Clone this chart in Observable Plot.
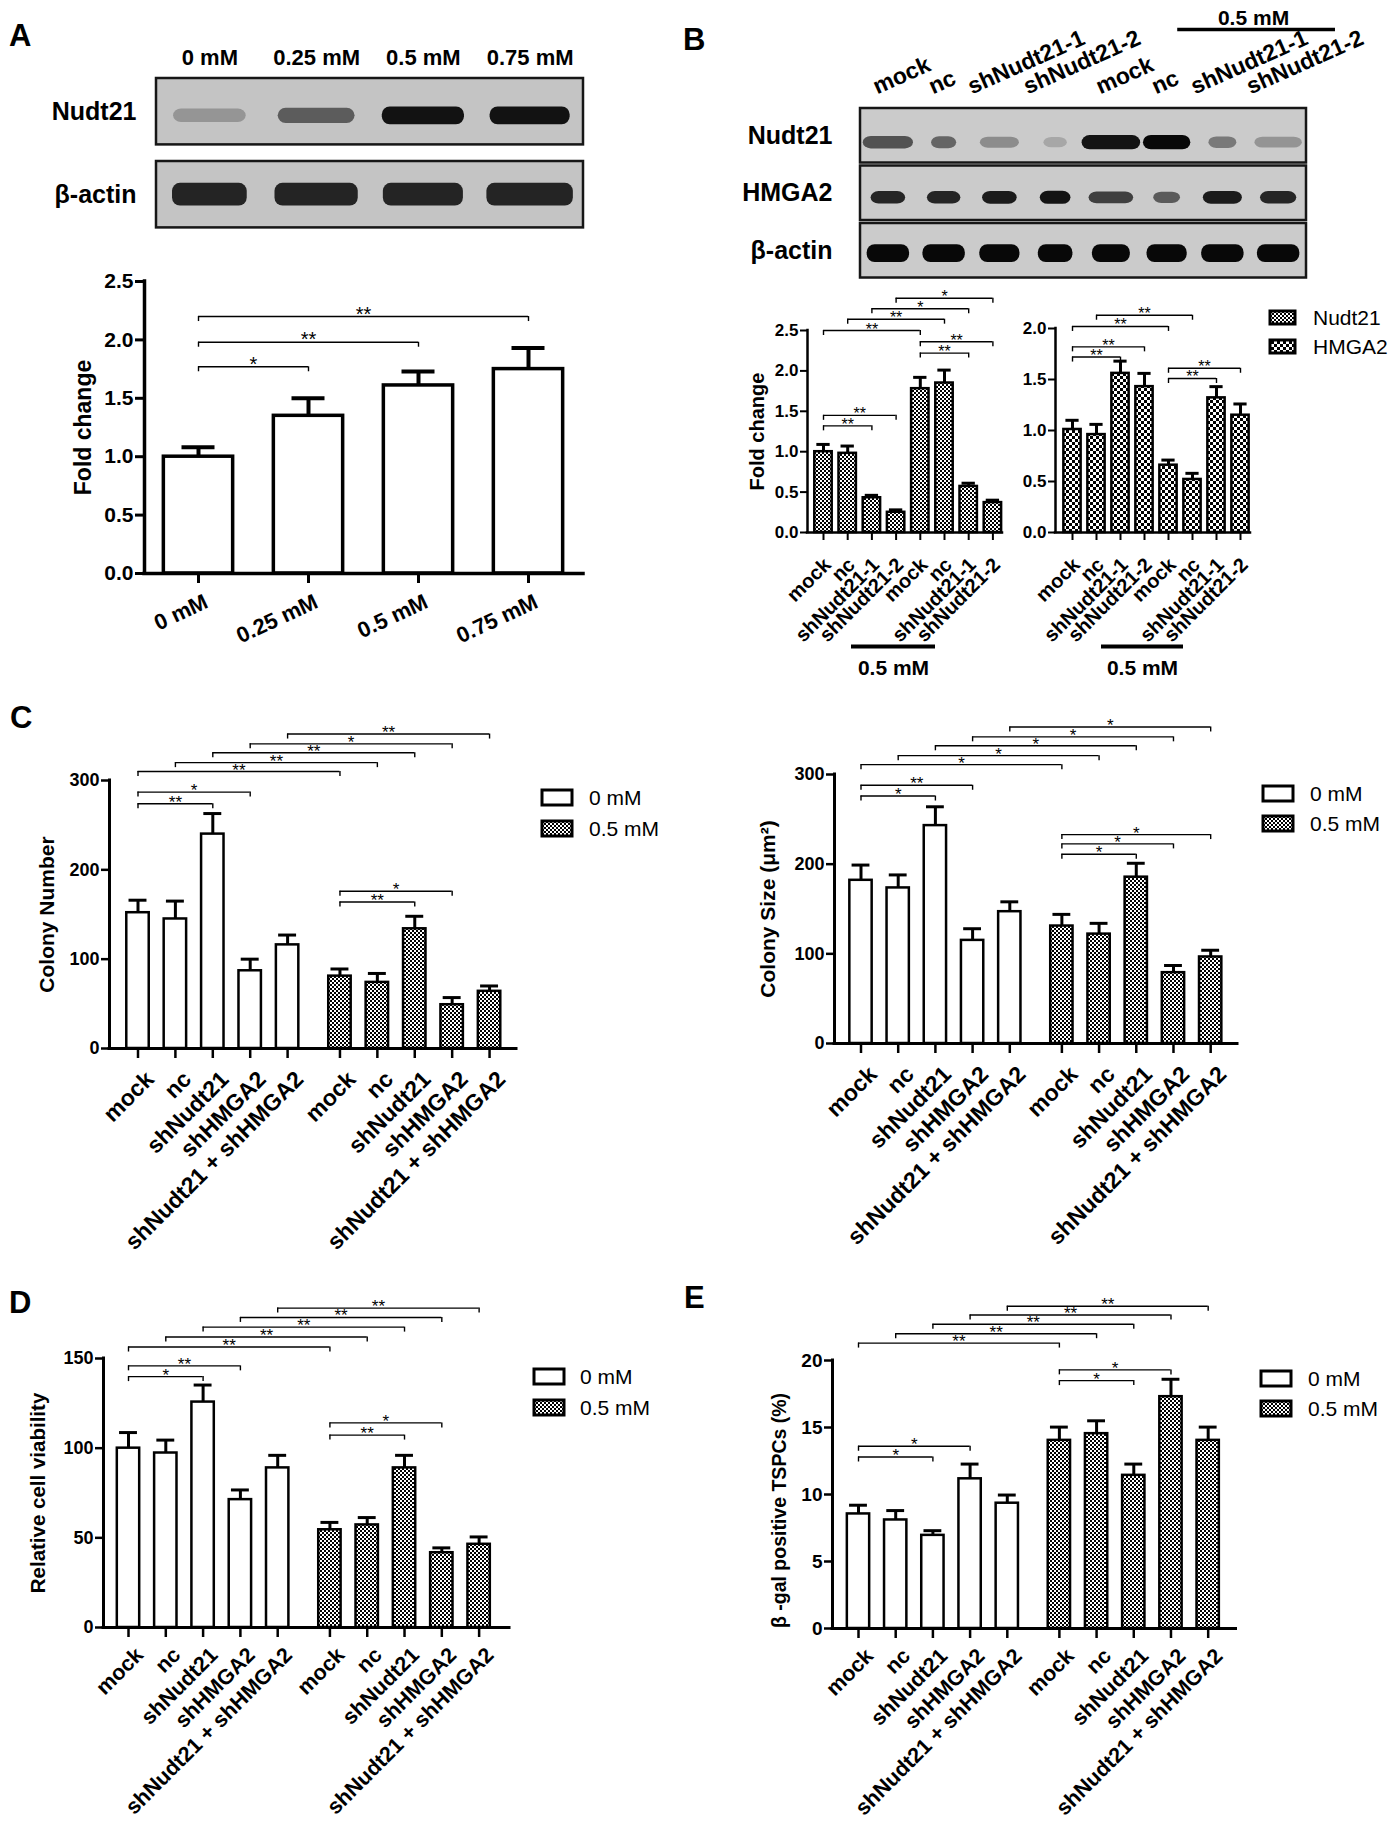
<!DOCTYPE html>
<html><head><meta charset="utf-8">
<script src="https://cdn.jsdelivr.net/npm/d3@7"></script>
<script src="https://cdn.jsdelivr.net/npm/@observablehq/plot@0.6"></script>
<style>
html,body{margin:0;padding:0;background:#fff;}
#fig{position:relative;width:1392px;height:1830px;overflow:hidden;font-family:"Liberation Sans",Arial,Helvetica,sans-serif;color:#000;background:#fff}
.abs{position:absolute}
.letter{position:absolute;font-weight:bold;font-size:31px;line-height:1}
.leg{position:absolute;font-size:21px;line-height:1;white-space:nowrap}
g[aria-label="bands"]{filter:blur(3.2px)}
</style></head><body>
<svg width="0" height="0" style="position:absolute"><defs>
  <pattern id="fine" width="4" height="4" patternUnits="userSpaceOnUse">
    <rect width="4" height="4" fill="#fff"/>
    <rect width="2" height="2" fill="#000"/>
    <rect x="2" y="2" width="2" height="2" fill="#000"/>
  </pattern>
  <pattern id="coarse" width="6" height="6" patternUnits="userSpaceOnUse">
    <rect width="6" height="6" fill="#fff"/>
    <rect width="3" height="3" fill="#000"/>
    <rect x="3" y="3" width="3" height="3" fill="#000"/>
  </pattern>
</defs></svg>
<div id="fig"></div>
<script>
// ================= DATA =================
// Panel A
const doseLabels = ["0 mM", "0.25 mM", "0.5 mM", "0.75 mM"];
const foldA = [1.00, 1.35, 1.61, 1.75];
const foldAErr = [1.08, 1.50, 1.73, 1.93];           // top of error bar
const sigA = [[0, 1, 1.77, "*"], [0, 2, 1.98, "**"], [0, 3, 2.20, "**"]];
const blotARows = ["Nudt21", "β-actin"];
const blotANudt21 = [0.25, 0.55, 0.95, 0.95];          // band darkness
const blotANudt21W = [0.68, 0.72, 0.77, 0.75];         // band spread (lane fraction)
const blotAActin = [0.85, 0.85, 0.85, 0.85];
const blotAActinW = [0.70, 0.78, 0.75, 0.81];

// Panel B
const laneB = ["mock", "nc", "shNudt21-1", "shNudt21-2", "mock", "nc", "shNudt21-1", "shNudt21-2"];
const blotBRows = ["Nudt21", "HMGA2", "β-actin"];
const blotBNudt21 = [0.62, 0.52, 0.32, 0.18, 0.95, 1.0, 0.42, 0.28];
const blotBNudt21W = [0.9, 0.45, 0.7, 0.42, 1.05, 0.85, 0.5, 0.85];
const blotBHMGA2 = [0.85, 0.85, 0.9, 0.95, 0.72, 0.58, 0.9, 0.85];
const blotBHMGA2W = [0.62, 0.6, 0.62, 0.55, 0.8, 0.48, 0.7, 0.65];
const blotBActin = [1, 1, 1, 1, 1, 1, 1, 1];
const blotBActinW = [0.76, 0.76, 0.72, 0.62, 0.68, 0.72, 0.76, 0.76];
const foldNudt21 = [1.00, 0.98, 0.43, 0.25, 1.78, 1.85, 0.57, 0.37];
const foldNudt21Err = [1.09, 1.07, 0.46, 0.28, 1.92, 2.01, 0.61, 0.40];
const sigNudt21 = [[0, 2, 1.32, "**"], [0, 3, 1.45, "**"], [4, 6, 2.22, "**"], [4, 7, 2.36, "**"],
                   [0, 4, 2.50, "**"], [1, 5, 2.64, "**"], [2, 6, 2.77, "*"], [3, 7, 2.90, "*"]];
const foldHMGA2 = [1.01, 0.96, 1.56, 1.43, 0.66, 0.52, 1.32, 1.15];
const foldHMGA2Err = [1.10, 1.06, 1.68, 1.56, 0.71, 0.58, 1.43, 1.26];
const sigHMGA2 = [[0, 2, 1.72, "**"], [0, 3, 1.82, "**"], [0, 4, 2.02, "**"], [1, 5, 2.13, "**"],
                  [4, 6, 1.51, "**"], [4, 7, 1.61, "**"]];
const legendB = ["Nudt21", "HMGA2"];

// Panels C–E
const groups = ["mock", "nc", "shNudt21", "shHMGA2", "shNudt21 + shHMGA2"];
const doses = ["0 mM", "0.5 mM"];
const colonyNum0 = [152, 145, 240, 87, 116];
const colonyNum0Err = [166, 165, 263, 100, 127];
const colonyNum05 = [81, 74, 134, 49, 64];
const colonyNum05Err = [89, 84, 148, 57, 70];
const sigColonyNum = [[0, 2, 274, "**"], [0, 3, 287, "*"], [0, 5, 310, "**"], [1, 6, 320, "**"], [2, 7, 331, "**"],
                      [3, 8, 341, "*"], [4, 9, 352, "**"], [5, 7, 164, "**"], [5, 8, 176, "*"]];
const colonySize0 = [182, 173.5, 243, 115, 147];
const colonySize0Err = [199, 188, 264, 128, 158];
const colonySize05 = [131, 122, 185.5, 79, 96.5];
const colonySize05Err = [144, 134, 201, 87, 104];
const sigColonySize = [[0, 2, 276, "*"], [0, 3, 288, "**"], [0, 5, 311, "*"], [1, 6, 321, "*"], [2, 7, 332, "*"],
                       [3, 8, 342, "*"], [4, 9, 353, "*"], [5, 7, 211, "*"], [5, 8, 222.6, "*"], [5, 9, 233, "*"]];
const viability0 = [100, 97.3, 125.7, 71.3, 89];
const viability0Err = [108.7, 104.5, 135.2, 76.7, 96];
const viability05 = [54.5, 57.2, 89, 41.7, 46.4];
const viability05Err = [58.6, 61.3, 96, 44.4, 50.5];
const sigViability = [[0, 2, 139.9, "*"], [0, 3, 145.9, "**"], [0, 5, 156.4, "**"], [1, 6, 162, "**"], [2, 7, 167.5, "**"],
                      [3, 8, 172.9, "**"], [4, 9, 178.1, "**"], [5, 7, 107.3, "**"], [5, 8, 114.1, "*"]];
const betaGal0 = [8.55, 8.1, 6.95, 11.17, 9.35];
const betaGal0Err = [9.2, 8.8, 7.3, 12.27, 9.96];
const betaGal05 = [14.04, 14.54, 11.43, 17.3, 14.04];
const betaGal05Err = [15.03, 15.5, 12.27, 18.6, 15.03];
const sigBetaGal = [[0, 2, 12.8, "*"], [0, 3, 13.6, "*"], [0, 5, 21.3, "**"], [1, 6, 22.0, "**"], [2, 7, 22.7, "**"],
                    [3, 8, 23.4, "**"], [4, 9, 24.05, "**"], [5, 7, 18.5, "*"], [5, 8, 19.3, "*"]];

// ================= HELPERS =================
const FONT = '"Liberation Sans", Arial, Helvetica, sans-serif';
const fig = document.getElementById("fig");
const baseStyle = {fontFamily: FONT, fontWeight: "bold", fontSize: "16px", overflow: "visible",
                   background: "none", color: "#000", maxWidth: "none"};
function place(node, left, top, width, height) {
  const d = document.createElement("div");
  d.className = "abs";
  Object.assign(d.style, {left: left + "px", top: top + "px", width: width + "px", height: height + "px"});
  d.appendChild(node);
  fig.appendChild(d);
}
function letter(t, left, top) {
  const d = document.createElement("div");
  d.className = "letter"; d.textContent = t;
  d.style.left = left + "px"; d.style.top = top + "px";
  fig.appendChild(d);
}
function legend(items, fills, {sx, cy, w, h, tx, fs}) {
  items.forEach((label, k) => {
    const c = cy[k];
    const s = document.createElement("div");
    s.className = "abs";
    s.style.left = (sx - 2) + "px"; s.style.top = (c - h / 2 - 2) + "px";
    s.innerHTML = `<svg width="${w + 4}" height="${h + 4}" style="display:block;overflow:visible"><rect x="2" y="2" width="${w}" height="${h}" fill="${fills[k]}" stroke="#000" stroke-width="3"/></svg>`;
    fig.appendChild(s);
    const t = document.createElement("div");
    t.className = "leg"; t.textContent = label;
    t.style.left = tx + "px"; t.style.top = (c - fs * 0.5) + "px"; t.style.fontSize = fs + "px";
    fig.appendChild(t);
  });
}

function barChart(c) {
  const ppu = (c.y0 - c.yTop) / c.yMax;
  const xd = [(c.axisX - c.first) / c.pitch, (c.endX - c.first) / c.pitch];
  const data = c.values.map((v, i) => ({x: c.pos[i], v, e: c.errs[i], fill: c.fills[i], label: c.labels[i]}));
  const br = c.sig.map(([a, b, y, s]) => ({x1: c.pos[a], x2: c.pos[b], y, s}));
  const ends = br.flatMap(d => [{x: d.x1, y: d.y}, {x: d.x2, y: d.y}]);
  const fillKinds = [...new Set(c.fills)];
  const bw = c.barW, cw = c.capW;
  const marks = [
    ...fillKinds.map(f => Plot.rect(data.filter(d => d.fill === f), {
      x1: d => d.x - bw / 2, x2: d => d.x + bw / 2, y1: 0, y2: "v",
      fill: f, stroke: "#000", strokeWidth: c.sw})),
    Plot.ruleX(data, {x: "x", y1: "v", y2: "e", strokeWidth: c.ew}),
    Plot.ruleY(data, {y: "e", x1: d => d.x - cw / 2, x2: d => d.x + cw / 2, strokeWidth: c.ew}),
    Plot.ruleX(data, {x: "x", y1: 0, y2: -c.xTick / ppu, strokeWidth: c.aw - 0.5}),
    Plot.ruleX([xd[0]], {strokeWidth: c.aw, strokeLinecap: "square"}),
    Plot.ruleY([0], {strokeWidth: c.aw, strokeLinecap: "square"}),
    Plot.axisY({ticks: c.yTicks, tickFormat: c.fmt, tickSize: c.yTick, tickPadding: 2,
                strokeWidth: c.aw - 0.5, fontSize: c.tickFont, fontWeight: "bold", label: null}),
    Plot.text(data, {x: "x", y: 0, text: "label", rotate: c.xRot, textAnchor: "end", lineAnchor: "middle",
                     dx: c.xdx, dy: c.xdy, fontSize: c.xFont, fontWeight: "bold"}),
    Plot.ruleY(br, {y: "y", x1: "x1", x2: "x2", strokeWidth: 1.4}),
    Plot.ruleX(ends, {x: "x", y1: "y", y2: d => d.y - 5 / ppu, strokeWidth: 1.4}),
    Plot.text(br, {x: d => (d.x1 + d.x2) / 2, y: "y", text: "s", lineAnchor: "bottom", dy: 4,
                   fontSize: c.starFont, fontWeight: "normal"})
  ];
  if (c.ylabel) marks.push(Plot.text([c.ylabel], {text: d => d, frameAnchor: "left", textAnchor: "middle",
      lineAnchor: "middle", dx: c.ylabelX - c.axisX, dy: c.ylabelDy || 0, rotate: -90,
      fontSize: c.ylabelFont, fontWeight: "bold"}));
  if (c.under) {
    const u = c.under, ux1 = (u.x1 - c.first) / c.pitch, ux2 = (u.x2 - c.first) / c.pitch;
    marks.push(Plot.ruleY([0], {x1: ux1, x2: ux2, dy: u.lineDy, strokeWidth: 4}));
    marks.push(Plot.text([u.label], {x: (ux1 + ux2) / 2, y: 0, text: d => d, dy: u.textDy, fontSize: u.font, fontWeight: "bold"}));
  }
  const svg = Plot.plot({
    width: c.width, height: c.height,
    marginLeft: c.axisX - c.left, marginRight: c.left + c.width - c.endX,
    marginTop: c.yTop - c.top, marginBottom: c.top + c.height - c.y0,
    x: {type: "linear", domain: xd, axis: null},
    y: {type: "linear", domain: [0, c.yMax], axis: null},
    style: baseStyle,
    marks
  });
  place(svg, c.left, c.top, c.width, c.height);
}

function makeBands(row, dark, widths, h, yo) {
  return dark.map((d, i) => ({lane: i, row, dark: d, w: widths[i], h: h * (0.65 + 0.35 * d), yo}));
}

function blot(c) {
  const nR = c.rows.length;
  const y0px = c.boxTop - c.pad * c.pitch;
  const rowsData = c.rows.map((name, i) => ({name, i}));
  const svg = Plot.plot({
    width: c.width, height: c.height,
    marginLeft: c.boxL - c.left, marginRight: c.left + c.width - c.boxR,
    marginTop: y0px - c.top, marginBottom: c.top + c.height - (y0px + nR * c.pitch),
    x: {type: "linear", domain: [0, c.nLanes], axis: null},
    y: {type: "linear", domain: [0, nR], reverse: true, axis: null},
    style: baseStyle,
    marks: [
      Plot.rect(rowsData, {x1: 0, x2: c.nLanes, y1: d => d.i + c.pad, y2: d => d.i + 1 - c.pad, fill: c.bg}),
      Plot.rect(c.bands, {
        x1: b => b.lane + 0.5 - b.w / 2, x2: b => b.lane + 0.5 + b.w / 2,
        y1: b => b.row + 0.5 + b.yo - b.h / 2, y2: b => b.row + 0.5 + b.yo + b.h / 2,
        fill: "#080808", fillOpacity: "dark", rx: 8, ariaLabel: "bands"}),
      Plot.rect(rowsData, {x1: 0, x2: c.nLanes, y1: d => d.i + c.pad, y2: d => d.i + 1 - c.pad,
                           fill: "none", stroke: "#161616", strokeWidth: 2.5}),
      Plot.text(rowsData, {x: 0, y: d => d.i + 0.5, text: "name", textAnchor: "end", dx: c.rowDx,
                           fontSize: c.rowFont, fontWeight: "bold"}),
      ...c.extra
    ]
  });
  place(svg, c.left, c.top, c.width, c.height);
}

// ================= PANEL A =================
blot({
  left: 0, top: 0, width: 600, height: 240, boxL: 156, boxR: 583, boxTop: 78, pitch: 83, pad: 0.1, nLanes: 4,
  rows: blotARows, bg: "#c4c4c4", rowDx: -20, rowFont: 25,
  bands: [...makeBands(0, blotANudt21, blotANudt21W, 0.22, 0.05), ...makeBands(1, blotAActin, blotAActinW, 0.29, 0)],
  extra: [Plot.text(doseLabels, {x: (d, i) => i + 0.5, y: 0.1, dy: -21, text: d => d, fontSize: 22, fontWeight: "bold"})]
});
barChart({
  left: 0, top: 240, width: 600, height: 400,
  axisX: 144, endX: 583, y0: 573, yTop: 281, yMax: 2.5,
  yTicks: [0, 0.5, 1, 1.5, 2, 2.5], fmt: d3.format(".1f"),
  first: 198, pitch: 110, pos: [0, 1, 2, 3],
  values: foldA, errs: foldAErr, fills: doseLabels.map(() => "#fff"), labels: doseLabels,
  sig: sigA, barW: 0.63, capW: 0.3, sw: 3.5, ew: 4, aw: 3.5, xTick: 10, yTick: 9,
  tickFont: 21, xFont: 22, xRot: -25, xdx: 8, xdy: 27, starFont: 20,
  ylabel: "Fold change", ylabelX: 83, ylabelFont: 23
});

// ================= PANEL B =================
blot({
  left: 690, top: 0, width: 702, height: 290, boxL: 860, boxR: 1306, boxTop: 108, pitch: 57.5, pad: 0.026, nLanes: 8,
  rows: blotBRows, bg: "#cbcbcb", rowDx: -28, rowFont: 25,
  bands: [...makeBands(0, blotBNudt21, blotBNudt21W, 0.25, 0.12),
          ...makeBands(1, blotBHMGA2, blotBHMGA2W, 0.23, 0.08),
          ...makeBands(2, blotBActin, blotBActinW, 0.31, 0.05)],
  extra: [
    Plot.text(laneB, {x: (d, i) => i + 0.5 - (d.length > 5 ? 0.5 : 0.2), y: 0.026, dy: -14, text: d => d,
                      rotate: -24, textAnchor: "start", lineAnchor: "bottom", fontSize: 23, fontWeight: "bold"}),
    Plot.ruleY([0.026], {x1: 5.69, x2: 8.52, dy: -79, strokeWidth: 3.5}),
    Plot.text(["0.5 mM"], {x: 7.05, y: 0.026, dy: -90, text: d => d, fontSize: 21, fontWeight: "bold"})
  ]
});
barChart({
  left: 690, top: 280, width: 330, height: 420,
  axisX: 807, endX: 1002, y0: 532, yTop: 330, yMax: 2.5,
  yTicks: [0, 0.5, 1, 1.5, 2, 2.5], fmt: d3.format(".1f"),
  first: 823, pitch: 24.2, pos: laneB.map((d, i) => i),
  values: foldNudt21, errs: foldNudt21Err, fills: laneB.map(() => "url(#fine)"), labels: laneB,
  sig: sigNudt21, barW: 0.72, capW: 0.55, sw: 2.5, ew: 3, aw: 2.5, xTick: 8, yTick: 7,
  tickFont: 17, xFont: 20, xRot: -45, xdx: 4, xdy: 29, starFont: 16,
  ylabel: "Fold change", ylabelX: 757, ylabelFont: 20,
  under: {x1: 851, x2: 935, lineDy: 114, textDy: 136, label: "0.5 mM", font: 21}
});
barChart({
  left: 1030, top: 280, width: 230, height: 420,
  axisX: 1055, endX: 1250, y0: 532, yTop: 328, yMax: 2.0,
  yTicks: [0, 0.5, 1, 1.5, 2], fmt: d3.format(".1f"),
  first: 1072, pitch: 24.0, pos: laneB.map((d, i) => i),
  values: foldHMGA2, errs: foldHMGA2Err, fills: laneB.map(() => "url(#coarse)"), labels: laneB,
  sig: sigHMGA2, barW: 0.72, capW: 0.55, sw: 2.5, ew: 3, aw: 2.5, xTick: 8, yTick: 7,
  tickFont: 17, xFont: 20, xRot: -45, xdx: 4, xdy: 29, starFont: 16,
  under: {x1: 1101, x2: 1183, lineDy: 114, textDy: 136, label: "0.5 mM", font: 21}
});
legend(legendB, ["url(#fine)", "url(#coarse)"], {sx: 1270, cy: [317, 346], w: 25, h: 13, tx: 1313, fs: 21});

// ================= PANELS C–E =================
const posCDE = [...groups.map((g, i) => i), ...groups.map((g, i) => i + 5.4)];
const labelsCDE = [...groups, ...groups];
const fillsCDE = [...groups.map(() => "#fff"), ...groups.map(() => "url(#fine)")];
const commonCDE = {pos: posCDE, labels: labelsCDE, fills: fillsCDE, barW: 0.6, capW: 0.48, sw: 2.5, ew: 3, aw: 3,
                   xTick: 10, yTick: 8, tickFont: 18, xFont: 23, xRot: -45, xdx: 12, xdy: 27, starFont: 17,
                   fmt: d => String(d)};
barChart({...commonCDE,
  left: 0, top: 690, width: 540, height: 560,
  axisX: 109, endX: 516, y0: 1048, yTop: 780, yMax: 300, yTicks: [0, 100, 200, 300],
  first: 137.5, pitch: 37.4,
  values: [...colonyNum0, ...colonyNum05], errs: [...colonyNum0Err, ...colonyNum05Err], sig: sigColonyNum,
  ylabel: "Colony Number", ylabelX: 47, ylabelFont: 21
});
barChart({...commonCDE,
  left: 700, top: 690, width: 560, height: 560,
  axisX: 834, endX: 1237, y0: 1043, yTop: 774, yMax: 300, yTicks: [0, 100, 200, 300],
  first: 860.5, pitch: 37.2,
  values: [...colonySize0, ...colonySize05], errs: [...colonySize0Err, ...colonySize05Err], sig: sigColonySize,
  ylabel: "Colony Size (μm²)", ylabelX: 768, ylabelFont: 21
});
barChart({...commonCDE, xFont: 21.5, xdy: 24, xdx: 11,
  left: 0, top: 1270, width: 540, height: 560,
  axisX: 103, endX: 509, y0: 1627, yTop: 1358, yMax: 150, yTicks: [0, 50, 100, 150],
  first: 128, pitch: 37.3,
  values: [...viability0, ...viability05], errs: [...viability0Err, ...viability05Err], sig: sigViability,
  ylabel: "Relative cell viability", ylabelX: 38, ylabelFont: 20.5
});
barChart({...commonCDE, xFont: 21.5, xdy: 24, xdx: 11,
  left: 700, top: 1270, width: 560, height: 560,
  axisX: 832, endX: 1235.5, y0: 1628, yTop: 1360, yMax: 20, yTicks: [0, 5, 10, 15, 20], tickFont: 19,
  first: 858, pitch: 37.2,
  values: [...betaGal0, ...betaGal05], errs: [...betaGal0Err, ...betaGal05Err], sig: sigBetaGal,
  ylabel: "β -gal positive TSPCs (%)", ylabelX: 779, ylabelDy: 16, ylabelFont: 19.5
});
const doseFills = ["#fff", "url(#fine)"];
legend(doses, doseFills, {sx: 542, cy: [797.5, 828.6], w: 30, h: 15, tx: 589, fs: 21});
legend(doses, doseFills, {sx: 1263, cy: [793.5, 823], w: 30, h: 15, tx: 1310, fs: 21});
legend(doses, doseFills, {sx: 534, cy: [1376.5, 1407], w: 30, h: 15, tx: 580, fs: 21});
legend(doses, doseFills, {sx: 1261, cy: [1378, 1408], w: 30, h: 15, tx: 1308, fs: 21});

// Panel letters
letter("A", 9, 20);
letter("B", 683, 24);
letter("C", 10, 702);
letter("D", 9, 1287);
letter("E", 684, 1282);
</script>
</body></html>
